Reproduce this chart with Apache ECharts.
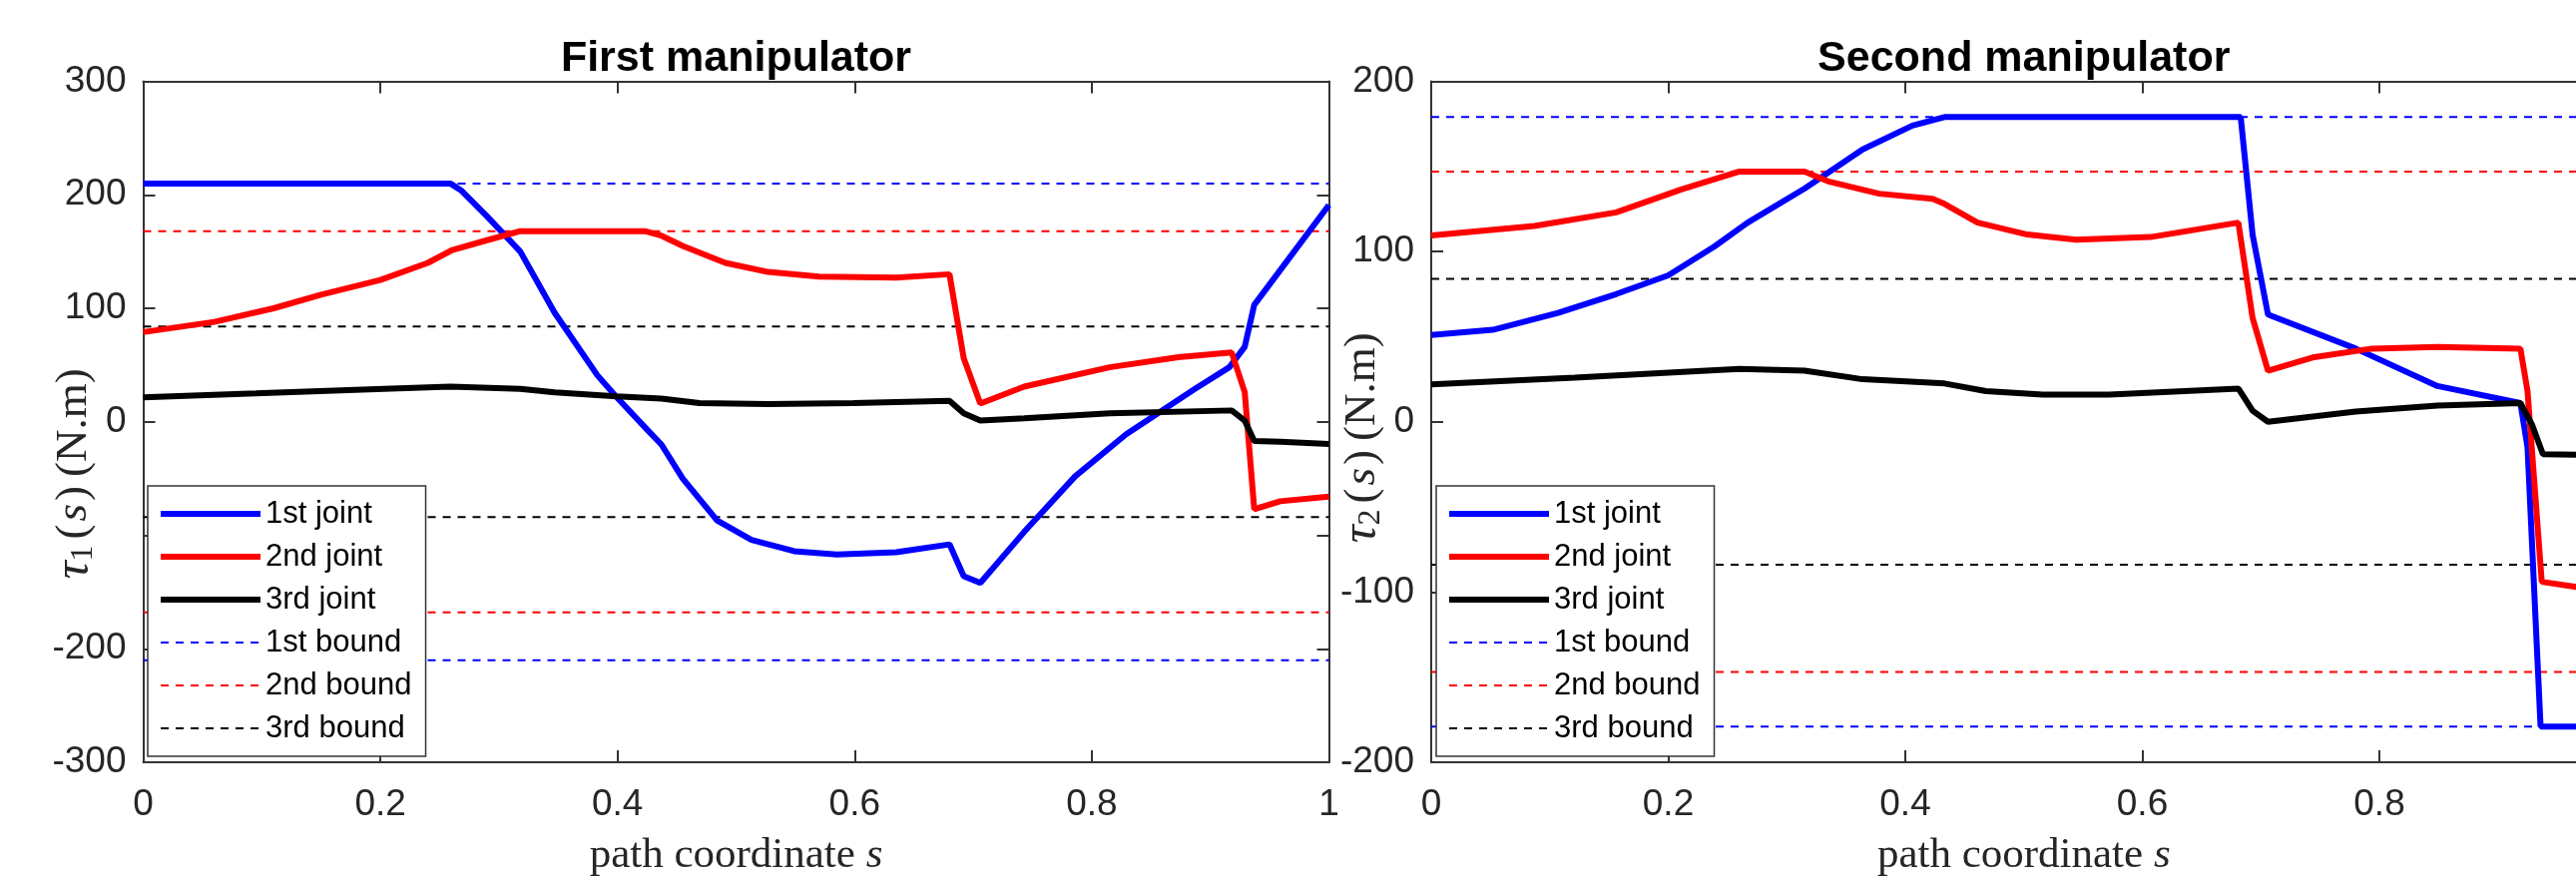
<!DOCTYPE html>
<html>
<head>
<meta charset="utf-8">
<script src="https://cdn.jsdelivr.net/npm/echarts@6/dist/echarts.min.js"></script>
<style>
  html, body { margin: 0; padding: 0; background: #fff; overflow: hidden; }
  #box { width: 2640px; height: 879px; }
</style>
</head>
<body>
<div id="box"></div>
<script>
// s values and torques, [s, tau]
const joint1First = [[0,210],[0.259,210],[0.268,204],[0.29,181],[0.318,150],[0.347,96],[0.383,41],[0.399,22],[0.426,-8],[0.437,-20],[0.455,-50],[0.484,-87],[0.513,-104],[0.549,-114],[0.585,-117],[0.635,-115],[0.68,-108],[0.692,-136],[0.706,-142],[0.743,-97],[0.786,-48],[0.829,-11],[0.858,9],[0.887,29],[0.916,48],[0.929,66],[0.937,103],[1,191]];
const joint2First = [[0,79],[0.06,88],[0.11,100],[0.15,112],[0.2,125],[0.24,140],[0.26,151],[0.29,160],[0.318,168],[0.423,168],[0.437,164],[0.455,155],[0.491,140],[0.527,132],[0.57,128],[0.635,127],[0.68,130],[0.692,56],[0.706,16],[0.743,31],[0.815,48],[0.873,57],[0.918,61],[0.929,26],[0.937,-77],[0.959,-70],[1,-66]];
const joint3First = [[0,21.5],[0.095,25],[0.203,29],[0.259,31],[0.318,29],[0.347,26],[0.399,22.5],[0.437,20.5],[0.469,16.5],[0.527,15.5],[0.599,16.5],[0.68,18.5],[0.692,7.5],[0.706,1],[0.743,3],[0.815,7.5],[0.918,10],[0.929,1],[0.937,-17],[0.959,-17.5],[1,-19.5]];

const joint1Second = [[0,51],[0.052,54],[0.107,64],[0.156,75],[0.2,86],[0.239,103],[0.267,117],[0.315,137],[0.364,160],[0.406,174],[0.433,179],[0.683,179],[0.693,110],[0.706,63],[0.78,43],[0.849,21],[0.919,11],[0.925,-15],[0.936,-179],[1,-179]];
const joint2Second = [[0,109.5],[0.087,115],[0.156,123],[0.211,136.5],[0.26,147],[0.315,147],[0.336,141],[0.378,134],[0.423,131],[0.433,128],[0.461,117],[0.503,110],[0.544,107],[0.607,108.5],[0.681,117],[0.693,61],[0.706,30],[0.745,38],[0.794,43],[0.849,44],[0.919,43],[0.925,18],[0.937,-94],[0.966,-97],[1,-99]];
const joint3Second = [[0,22],[0.121,26],[0.26,31],[0.315,30],[0.364,25],[0.433,22.5],[0.468,18],[0.516,16],[0.572,16],[0.681,19.5],[0.693,6.5],[0.706,0],[0.78,6],[0.849,9.5],[0.919,11],[0.929,-2],[0.938,-19],[0.966,-19.3],[1,-19.5]];

const boundsFirst = [210, 168, 84];
const boundsSecond = [179, 147, 84];

const jointNames = ['1st joint', '2nd joint', '3rd joint'];
const boundNames = ['1st bound', '2nd bound', '3rd bound'];
const colors = ['#0000ff', '#ff0000', '#000000'];

const titles = ['First manipulator', 'Second manipulator'];
const yNames = [
  '{t|τ}{sub|1}{p|(}{s|s}{p|)}\u2009{p|(N.m)}',
  '{t|τ}{sub|2}{p|(}{s|s}{p|)}\u2009{p|(N.m)}'
];
const yRanges = [[-300, 300, 100], [-200, 200, 100]];
// tick labels the picture does not show (hidden behind the y label)
const hiddenTicks = [[-100], []];
// the y labels sit a bit below the middle of the axis in the picture
const yNameShift = [104, 32];

const axisColor = '#333333';
const labelColor = '#262626';
const sans = 'Liberation Sans, Arial, sans-serif';
const serif = 'Liberation Serif, Times New Roman, serif';

let myChart = echarts.init(document.getElementById('box'));

// the second plot runs past the right edge of the window, like the picture
let grids = [
  {left: 143.5, right: 1308.5, top: 81.5, bottom: 115, outerBoundsMode: 'none'},
  {left: 1434, right: 18.5, top: 81.5, bottom: 115, outerBoundsMode: 'none'}
];

let xAxes = [], yAxes = [], series = [], legends = [];
[0, 1].forEach(function (g) {
  // bottom axis
  xAxes.push({
    type: 'value', gridIndex: g, min: 0, max: 1, interval: 0.2, position: 'bottom',
    name: 'path coordinate {i|s}', nameLocation: 'middle', nameGap: 72, nameMoveOverlap: false,
    nameTextStyle: {fontFamily: serif, fontSize: 43, color: labelColor,
      rich: {i: {fontFamily: serif, fontStyle: 'italic', fontSize: 43, color: labelColor}}},
    axisLine: {show: true, onZero: false, lineStyle: {color: axisColor, width: 2}},
    axisTick: {inside: true, length: 12, lineStyle: {color: axisColor, width: 2}},
    axisLabel: {margin: 24, fontSize: 37, fontFamily: sans, color: labelColor},
    splitLine: {show: false}
  });
  // top axis, mirror ticks and title
  xAxes.push({
    type: 'value', gridIndex: g, min: 0, max: 1, interval: 0.2, position: 'top',
    name: titles[g], nameLocation: 'middle', nameGap: 1, nameMoveOverlap: false,
    nameTextStyle: {fontFamily: sans, fontSize: 43, fontWeight: 'bold', color: '#000'},
    axisLine: {show: true, onZero: false, lineStyle: {color: axisColor, width: 2}},
    axisTick: {inside: true, length: 12, lineStyle: {color: axisColor, width: 2}},
    axisLabel: {show: false},
    splitLine: {show: false}
  });
  const r = yRanges[g];
  const hidden = hiddenTicks[g];
  yAxes.push({
    type: 'value', gridIndex: g, min: r[0], max: r[1], interval: r[2], position: 'left',
    name: yNames[g], nameLocation: 'middle', nameGap: 44, nameMoveOverlap: false,
    nameTextStyle: {
      fontFamily: serif, fontSize: 45, color: labelColor,
      padding: [0, yNameShift[g], 0, 0],
      rich: {
        t: {fontFamily: serif, fontStyle: 'italic', fontSize: 50, color: labelColor},
        sub: {fontFamily: serif, fontSize: 32, color: labelColor, verticalAlign: 'bottom', padding: [16, 6, 0, 0]},
        p: {fontFamily: serif, fontSize: 45, color: labelColor},
        s: {fontFamily: serif, fontStyle: 'italic', fontSize: 45, color: labelColor, padding: [0, 3, 0, 3]}
      }
    },
    axisLine: {show: true, onZero: false, lineStyle: {color: axisColor, width: 2}},
    axisTick: {inside: true, length: 12, lineStyle: {color: axisColor, width: 2}},
    axisLabel: {
      margin: 17, fontSize: 37, fontFamily: sans, color: labelColor,
      formatter: function (v) { return hidden.indexOf(v) >= 0 ? '' : String(v); }
    },
    splitLine: {show: false}
  });
  yAxes.push({
    type: 'value', gridIndex: g, min: r[0], max: r[1], interval: r[2], position: 'right',
    axisLine: {show: true, onZero: false, lineStyle: {color: axisColor, width: 2}},
    axisTick: {inside: true, length: 12, lineStyle: {color: axisColor, width: 2}},
    axisLabel: {show: false},
    splitLine: {show: false}
  });

  const joints = g === 0 ? [joint1First, joint2First, joint3First] : [joint1Second, joint2Second, joint3Second];
  const bounds = g === 0 ? boundsFirst : boundsSecond;

  joints.forEach(function (d, i) {
    series.push({
      name: jointNames[i], type: 'line', xAxisIndex: g * 2, yAxisIndex: g * 2,
      data: d, symbol: 'none', z: 3,
      lineStyle: {color: colors[i], width: 6}, itemStyle: {color: colors[i]}
    });
  });
  bounds.forEach(function (b, i) {
    [b, -b].forEach(function (v) {
      series.push({
        name: boundNames[i], type: 'line', xAxisIndex: g * 2, yAxisIndex: g * 2,
        data: [[0, v], [1, v]], symbol: 'none', z: 2,
        lineStyle: {color: colors[i], width: 2, type: [8, 7]}, itemStyle: {color: colors[i]}
      });
    });
  });

  legends.push({
    left: g === 0 ? 148 : 1439, top: 487, orient: 'vertical',
    data: jointNames.concat(boundNames), selectedMode: false,
    itemWidth: 100, itemHeight: 20, itemGap: 11,
    padding: [12, 14, 12, 10],
    backgroundColor: '#fff', borderColor: '#333', borderWidth: 1.5,
    itemStyle: {opacity: 0},
    lineStyle: {width: 'inherit'},
    textStyle: {fontFamily: sans, fontSize: 31, color: '#000', lineHeight: 32}
  });
});

let option = {
  backgroundColor: '#fff',
  animation: false,
  grid: grids,
  xAxis: xAxes,
  yAxis: yAxes,
  legend: legends,
  series: series
};

myChart.setOption(option);
</script>
</body>
</html>
